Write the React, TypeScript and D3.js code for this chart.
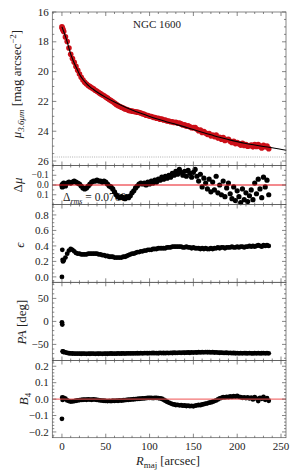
import React from 'react';
import * as d3 from 'd3';

// isophote radii along the major axis [arcsec]
const RADIUS = [
  0, 0.4, 0.8, 1.2,
  2, 4, 6, 8, 10, 12, 14, 16, 18, 20,
  22, 24, 26, 28, 30, 32, 34, 36, 38, 40,
  42, 44, 46, 48, 50, 52, 54, 56, 58, 60,
  62, 64, 66, 68, 70, 72, 74, 76, 78, 80,
  82, 84, 86, 88, 90, 92, 94, 96, 98, 100,
  102, 104, 106, 108, 110, 112, 114, 116, 118, 120,
  122, 124, 126, 128, 130, 132, 134, 136, 138, 140,
  142, 144, 146, 148, 150, 152, 154, 156, 158, 160,
  162, 164, 166, 168, 170, 172, 174, 176, 178, 180,
  182, 184, 186, 188, 190, 192, 194, 196, 198, 200,
  202, 204, 206, 208, 210, 212, 214, 216, 218, 220,
  222, 224, 226, 228, 230, 232, 234, 236,
];

// surface brightness mu_3.6um [mag arcsec^-2]
const MU = [
  17.0, 17.09, 17.12, 17.21,
  17.31, 17.67, 17.98, 18.42, 18.83, 19.12, 19.38, 19.65, 19.91, 20.16,
  20.38, 20.56, 20.72, 20.83, 20.93, 21.01, 21.08, 21.16, 21.25, 21.32,
  21.41, 21.48, 21.56, 21.62, 21.7, 21.78, 21.87, 21.94, 22.02, 22.11,
  22.2, 22.27, 22.34, 22.39, 22.45, 22.51, 22.54, 22.6, 22.63, 22.65,
  22.68, 22.69, 22.72, 22.74, 22.78, 22.83, 22.86, 22.93, 22.94, 23.0,
  23.01, 23.07, 23.08, 23.13, 23.14, 23.19, 23.19, 23.25, 23.25, 23.31,
  23.31, 23.36, 23.36, 23.41, 23.4, 23.47, 23.45, 23.51, 23.58, 23.57,
  23.66, 23.63, 23.7, 23.77, 23.76, 23.76, 23.87, 23.96, 23.92, 24.09,
  24.03, 24.12, 24.21, 24.15, 24.31, 24.25, 24.36, 24.25, 24.46, 24.41,
  24.54, 24.43, 24.62, 24.56, 24.54, 24.68, 24.76, 24.67, 24.83, 24.76,
  24.84, 24.93, 24.81, 24.95, 24.9, 25.01, 24.97, 24.93, 25.05, 24.9,
  25.03, 24.9, 25.02, 25.13, 24.94, 25.05, 25.0, 25.17,
];

// residuals data - model
const DMU = [
  0.0, 0.02, -0.01, 0.01,
  -0.02, 0.01, -0.02, -0.03, -0.02, -0.03, -0.04, -0.03, -0.02, -0.01,
  0.01, 0.03, 0.04, 0.03, 0.01, -0.01, -0.03, -0.04, -0.04, -0.05,
  -0.04, -0.04, -0.03, -0.04, -0.03, -0.01, 0.01, 0.02, 0.04, 0.07,
  0.1, 0.12, 0.13, 0.12, 0.13, 0.14, 0.12, 0.13, 0.11, 0.08,
  0.06, 0.03, 0.01, -0.01, -0.02, -0.01, -0.02, 0.0, -0.03, -0.01,
  -0.04, -0.02, -0.05, -0.03, -0.06, -0.05, -0.08, -0.06, -0.09, -0.07,
  -0.1, -0.08, -0.12, -0.1, -0.14, -0.11, -0.16, -0.13, -0.1, -0.14,
  -0.09, -0.15, -0.12, -0.08, -0.13, -0.16, -0.09, -0.04, -0.11, 0.02,
  -0.07, -0.02, 0.04, -0.06, 0.07, -0.03, 0.05, -0.09, 0.08, 0.0,
  0.1, -0.04, 0.12, 0.03, -0.02, 0.09, 0.14, 0.02, 0.16, 0.06,
  0.12, 0.18, 0.04, 0.15, 0.08, 0.17, 0.11, 0.05, 0.15, -0.02,
  0.09, -0.06, 0.04, 0.13, -0.08, 0.02, -0.05, 0.1,
];

// ellipticity
const ELL = [
  0.0, 0.35, 0.22, 0.2,
  0.21, 0.25, 0.3, 0.34, 0.36, 0.35, 0.33, 0.31, 0.3, 0.3,
  0.29, 0.29, 0.29, 0.29, 0.3, 0.3, 0.3, 0.3, 0.3, 0.3,
  0.29, 0.29, 0.28, 0.28, 0.27, 0.27, 0.26, 0.26, 0.26, 0.25,
  0.25, 0.25, 0.25, 0.25, 0.26, 0.26, 0.27, 0.28, 0.29, 0.3,
  0.3, 0.31, 0.32, 0.32, 0.33, 0.33, 0.34, 0.34, 0.35, 0.35,
  0.35, 0.36, 0.36, 0.36, 0.37, 0.37, 0.37, 0.37, 0.37, 0.38,
  0.38, 0.38, 0.39, 0.39, 0.39, 0.39, 0.39, 0.39, 0.38, 0.38,
  0.39, 0.38, 0.38, 0.37, 0.38, 0.37, 0.37, 0.37, 0.36, 0.37,
  0.36, 0.37, 0.36, 0.36, 0.37, 0.36, 0.37, 0.37, 0.38, 0.37,
  0.38, 0.38, 0.37, 0.38, 0.38, 0.38, 0.39, 0.38, 0.38, 0.39,
  0.38, 0.39, 0.39, 0.38, 0.39, 0.39, 0.4, 0.39, 0.4, 0.39,
  0.4, 0.41, 0.4, 0.39, 0.41, 0.4, 0.41, 0.4,
];

// position angle [deg]
const PA = [
  -2, -7, -65, -66,
  -66.5, -67.5, -68.5, -69.2, -69.6, -69.8, -70.0, -70.2, -69.9, -70.1,
  -70.3, -70.0, -70.2, -70.4, -70.1, -70.3, -70.0, -70.2, -70.5, -70.1,
  -70.3, -70.0, -70.4, -70.2, -70.1, -70.3, -70.0, -69.8, -70.2, -69.9,
  -70.1, -69.7, -70.0, -69.8, -69.6, -69.9, -69.5, -69.7, -69.4, -69.6,
  -69.3, -69.5, -69.2, -69.4, -69.0, -69.3, -69.1, -68.8, -69.2, -68.9,
  -69.1, -68.7, -69.0, -68.8, -69.2, -68.6, -68.9, -68.7, -69.0, -68.5,
  -68.8, -68.4, -68.7, -68.2, -68.6, -68.3, -68.0, -68.4, -67.8, -68.2,
  -67.9, -67.6, -68.1, -67.4, -67.8, -67.2, -67.6, -67.0, -67.5, -66.8,
  -67.3, -66.6, -67.1, -66.9, -67.4, -67.0, -67.6, -67.3, -67.8, -68.1,
  -67.9, -68.3, -68.6, -68.2, -68.8, -68.5, -69.0, -68.7, -69.2, -68.9,
  -69.3, -69.0, -69.4, -68.8, -69.2, -69.5, -68.9, -69.3, -69.6, -69.1,
  -69.4, -69.0, -69.5, -69.2, -68.8, -69.4, -69.1, -69.3,
];

// fourth-order Fourier coefficient
const B4 = [
  -0.12, 0.01, -0.005, 0.005,
  0.008, 0.002, -0.008, -0.012, -0.015, -0.014, -0.012, -0.01, -0.008, -0.006,
  -0.005, -0.004, -0.003, -0.004, -0.002, -0.003, -0.004, -0.002, -0.003, -0.005,
  -0.006, -0.008, -0.009, -0.01, -0.011, -0.012, -0.011, -0.012, -0.01, -0.011,
  -0.009, -0.01, -0.008, -0.009, -0.007, -0.006, -0.005, -0.004, -0.003, -0.002,
  -0.001, 0.0, 0.001, 0.002, 0.003, 0.004, 0.005, 0.006, 0.007, 0.008,
  0.007, 0.006, 0.007, 0.008, 0.006, 0.004, 0.002, -0.004, -0.01, -0.016,
  -0.021, -0.026, -0.03, -0.033, -0.036, -0.035, -0.038, -0.037, -0.04, -0.039,
  -0.042, -0.04, -0.043, -0.041, -0.044, -0.04, -0.038, -0.036, -0.037, -0.033,
  -0.031, -0.028, -0.026, -0.022, -0.02, -0.016, -0.012, -0.008, -0.002, 0.004,
  0.008, 0.012, 0.01, 0.014, 0.012, 0.016, 0.013, 0.018, 0.015, 0.019,
  0.014, 0.012, 0.008, 0.01, 0.006, 0.011, 0.004, 0.009, -0.002, 0.012,
  0.003, -0.012, 0.008, 0.002, 0.013, -0.004, 0.006, -0.01,
];

// model profile (black line)
const MODEL_R = [0, 2, 4, 6, 8, 10, 12, 14, 16, 18, 20, 24, 28, 32, 36, 40, 50, 60, 70, 80,
  90, 100, 110, 120, 130, 140, 150, 160, 170, 180, 190, 200, 210, 220, 230, 240, 256];
const MODEL_MU = [17.0, 17.31, 17.64, 18.0, 18.43, 18.83, 19.14, 19.42, 19.68, 19.93, 20.17,
  20.53, 20.8, 21.02, 21.2, 21.37, 21.73, 22.04, 22.32, 22.57, 22.8, 23.01, 23.2, 23.38,
  23.54, 23.71, 23.89, 24.07, 24.24, 24.41, 24.56, 24.7, 24.82, 24.92, 25.02, 25.11, 25.28];

const SKY_MU = 25.73;
const RMS_TEXT = '0.0760';
const GALAXY = 'NGC 1600';

const X_TICKS = [0, 50, 100, 150, 200, 250];
const MU_TICKS = [16, 18, 20, 22, 24, 26];
const DMU_TICKS = [-0.1, 0, 0.1];
const ELL_TICKS = [0, 0.2, 0.4, 0.6, 0.8];
const PA_TICKS = [-50, 0, 50];
const B4_TICKS = [-0.2, -0.1, 0, 0.1, 0.2];

const W = 293;
const H = 471;
const LEFT = 52.3;
const RIGHT = 286;
const FONT = '"Liberation Serif", "Times New Roman", serif';
const FRAME = '#555';

const x = d3.scaleLinear().domain([-11, 255.7]).range([LEFT, RIGHT]);

const dec = (d: number) => (d < 0 ? '\u2212' : '') + Math.abs(d).toFixed(1);
const int = (d: number) => (d < 0 ? '\u2212' : '') + Math.abs(d);

const panels = [
  { key: 'mu', top: 12, bottom: 165.5, y: d3.scaleLinear().domain([16, 26.3]).range([12, 165.5]), ticks: MU_TICKS, minor: 0.5, fmt: int, fs: 11 },
  { key: 'dmu', top: 165.5, bottom: 204.5, y: d3.scaleLinear().domain([-0.2, 0.2]).range([165.5, 204.5]), ticks: DMU_TICKS, minor: 0.05, fmt: dec, fs: 9.5 },
  { key: 'ell', top: 204.5, bottom: 282.3, y: d3.scaleLinear().domain([-0.07, 0.935]).range([282.3, 204.5]), ticks: ELL_TICKS, minor: 0.05, fmt: dec, fs: 11 },
  { key: 'pa', top: 282.3, bottom: 360.5, y: d3.scaleLinear().domain([-85, 85]).range([360.5, 282.3]), ticks: PA_TICKS, minor: 10, fmt: int, fs: 11 },
  { key: 'b4', top: 360.5, bottom: 437.7, y: d3.scaleLinear().domain([-0.235, 0.235]).range([437.7, 360.5]), ticks: B4_TICKS, minor: 0.02, fmt: dec, fs: 11 },
];

function minorTicks(domain: number[], step: number) {
  const lo = Math.min(domain[0], domain[1]);
  const hi = Math.max(domain[0], domain[1]);
  return d3.range(Math.ceil(lo / step - 1e-6), Math.floor(hi / step + 1e-6) + 1).map((i) => i * step);
}

function Frame({ p, last }: { p: any; last: boolean }) {
  const xMinor = minorTicks(x.domain(), 10);
  const yMinor = minorTicks(p.y.domain(), p.minor);
  return (
    <g stroke={FRAME} strokeWidth={0.7}>
      <rect x={LEFT} y={p.top} width={RIGHT - LEFT} height={p.bottom - p.top} fill="none" />
      {xMinor.map((t) => (
        <g key={'xm' + t}>
          <line x1={x(t)} x2={x(t)} y1={p.top} y2={p.top + (X_TICKS.includes(t) ? 4 : 2)} />
          <line x1={x(t)} x2={x(t)} y1={p.bottom} y2={p.bottom - (X_TICKS.includes(t) ? 4 : 2)} />
        </g>
      ))}
      {yMinor.map((t) => {
        const major = p.ticks.some((m: number) => Math.abs(m - t) < 1e-6);
        return (
          <g key={'ym' + t}>
            <line x1={LEFT} x2={LEFT + (major ? 4 : 2)} y1={p.y(t)} y2={p.y(t)} />
            <line x1={RIGHT} x2={RIGHT - (major ? 4 : 2)} y1={p.y(t)} y2={p.y(t)} />
          </g>
        );
      })}
      <g stroke="none" fill="#222" fontSize={p.fs} textAnchor="end">
        {p.ticks.map((t: number) => (
          <text key={'yl' + t} x={48.8} y={p.y(t)} dy="0.33em">{p.fmt(t)}</text>
        ))}
      </g>
      {last && (
        <g stroke="none" fill="#222" fontSize={11} textAnchor="middle">
          {X_TICKS.map((t) => (
            <text key={'xl' + t} x={x(t)} y={450}>{t}</text>
          ))}
        </g>
      )}
    </g>
  );
}

export default function App() {
  const [pMu, pDmu, pEll, pPa, pB4] = panels;
  const model = d3.line<number>()
    .x((_, i) => x(MODEL_R[i]))
    .y((d) => pMu.y(d))
    .curve(d3.curveMonotoneX);

  return (
    <svg width={W} height={H} style={{ position: 'absolute', left: 0, top: 0, background: '#fff' }} fontFamily={FONT}>
      {/* panel 1: surface brightness */}
      <line x1={LEFT} x2={RIGHT} y1={pMu.y(SKY_MU)} y2={pMu.y(SKY_MU)} stroke="#b0b0b0" strokeWidth={1} strokeDasharray="1,1.2" />
      <g fill="#cc0f18">
        {RADIUS.map((r, i) => <circle key={i} cx={x(r)} cy={pMu.y(MU[i])} r={2.8} />)}
      </g>
      <path d={model(MODEL_MU) || ''} fill="none" stroke="#000" strokeWidth={1.1} />
      <text x={157} y={28} textAnchor="middle" fontSize={11} fill="#222">{GALAXY}</text>

      {/* panel 2: residuals */}
      <text x={63} y={201} fontSize={11.5} fill="#222">
        Δ<tspan fontStyle="italic" fontSize={8} dy={2.5}>rms</tspan>
        <tspan dy={-2.5}> = {RMS_TEXT}</tspan>
      </text>
      <g fill="#000">
        {RADIUS.map((r, i) => <circle key={i} cx={x(r)} cy={pDmu.y(DMU[i])} r={2.6} />)}
      </g>
      <line x1={LEFT} x2={RIGHT} y1={pDmu.y(0)} y2={pDmu.y(0)} stroke="#e8141c" strokeWidth={1} />

      {/* panel 3: ellipticity */}
      <g fill="#000">
        {RADIUS.map((r, i) => <circle key={i} cx={x(r)} cy={pEll.y(ELL[i])} r={2.4} />)}
      </g>

      {/* panel 4: position angle */}
      <g fill="#000">
        {RADIUS.map((r, i) => <circle key={i} cx={x(r)} cy={pPa.y(PA[i])} r={2.4} />)}
      </g>

      {/* panel 5: B4 */}
      <g fill="#000">
        {RADIUS.map((r, i) => <circle key={i} cx={x(r)} cy={pB4.y(B4[i])} r={2.4} />)}
      </g>
      <line x1={LEFT} x2={RIGHT} y1={pB4.y(0)} y2={pB4.y(0)} stroke="#f05050" strokeOpacity={0.8} strokeWidth={1.2} />

      {panels.map((p, i) => <Frame key={p.key} p={p} last={i === panels.length - 1} />)}

      {/* axis titles */}
      <g fill="#222" fontSize={13} textAnchor="middle">
        <text transform="translate(20.5,84) rotate(-90)">
          <tspan fontStyle="italic">μ</tspan>
          <tspan fontStyle="italic" fontSize={9} dy={3}>3.6μm</tspan>
          <tspan dy={-3}> [mag arcsec</tspan>
          <tspan fontSize={9} dy={-5}>−2</tspan>
          <tspan dy={5}>]</tspan>
        </text>
        <text transform="translate(22,185) rotate(-90)">Δ<tspan fontStyle="italic">μ</tspan></text>
        <text transform="translate(23.5,245) rotate(-90)" fontStyle="italic">ϵ</text>
        <text transform="translate(25.5,322) rotate(-90)">
          <tspan fontStyle="italic">PA</tspan> [deg]
        </text>
        <text transform="translate(28,399) rotate(-90)">
          <tspan fontStyle="italic">B</tspan>
          <tspan fontSize={9} dy={2.5}>4</tspan>
        </text>
        <text x={168} y={465} fontSize={12.5}>
          <tspan fontStyle="italic">R</tspan>
          <tspan fontSize={9} dy={2.5}>maj</tspan>
          <tspan dy={-2.5}> [arcsec]</tspan>
        </text>
      </g>
    </svg>
  );
}
